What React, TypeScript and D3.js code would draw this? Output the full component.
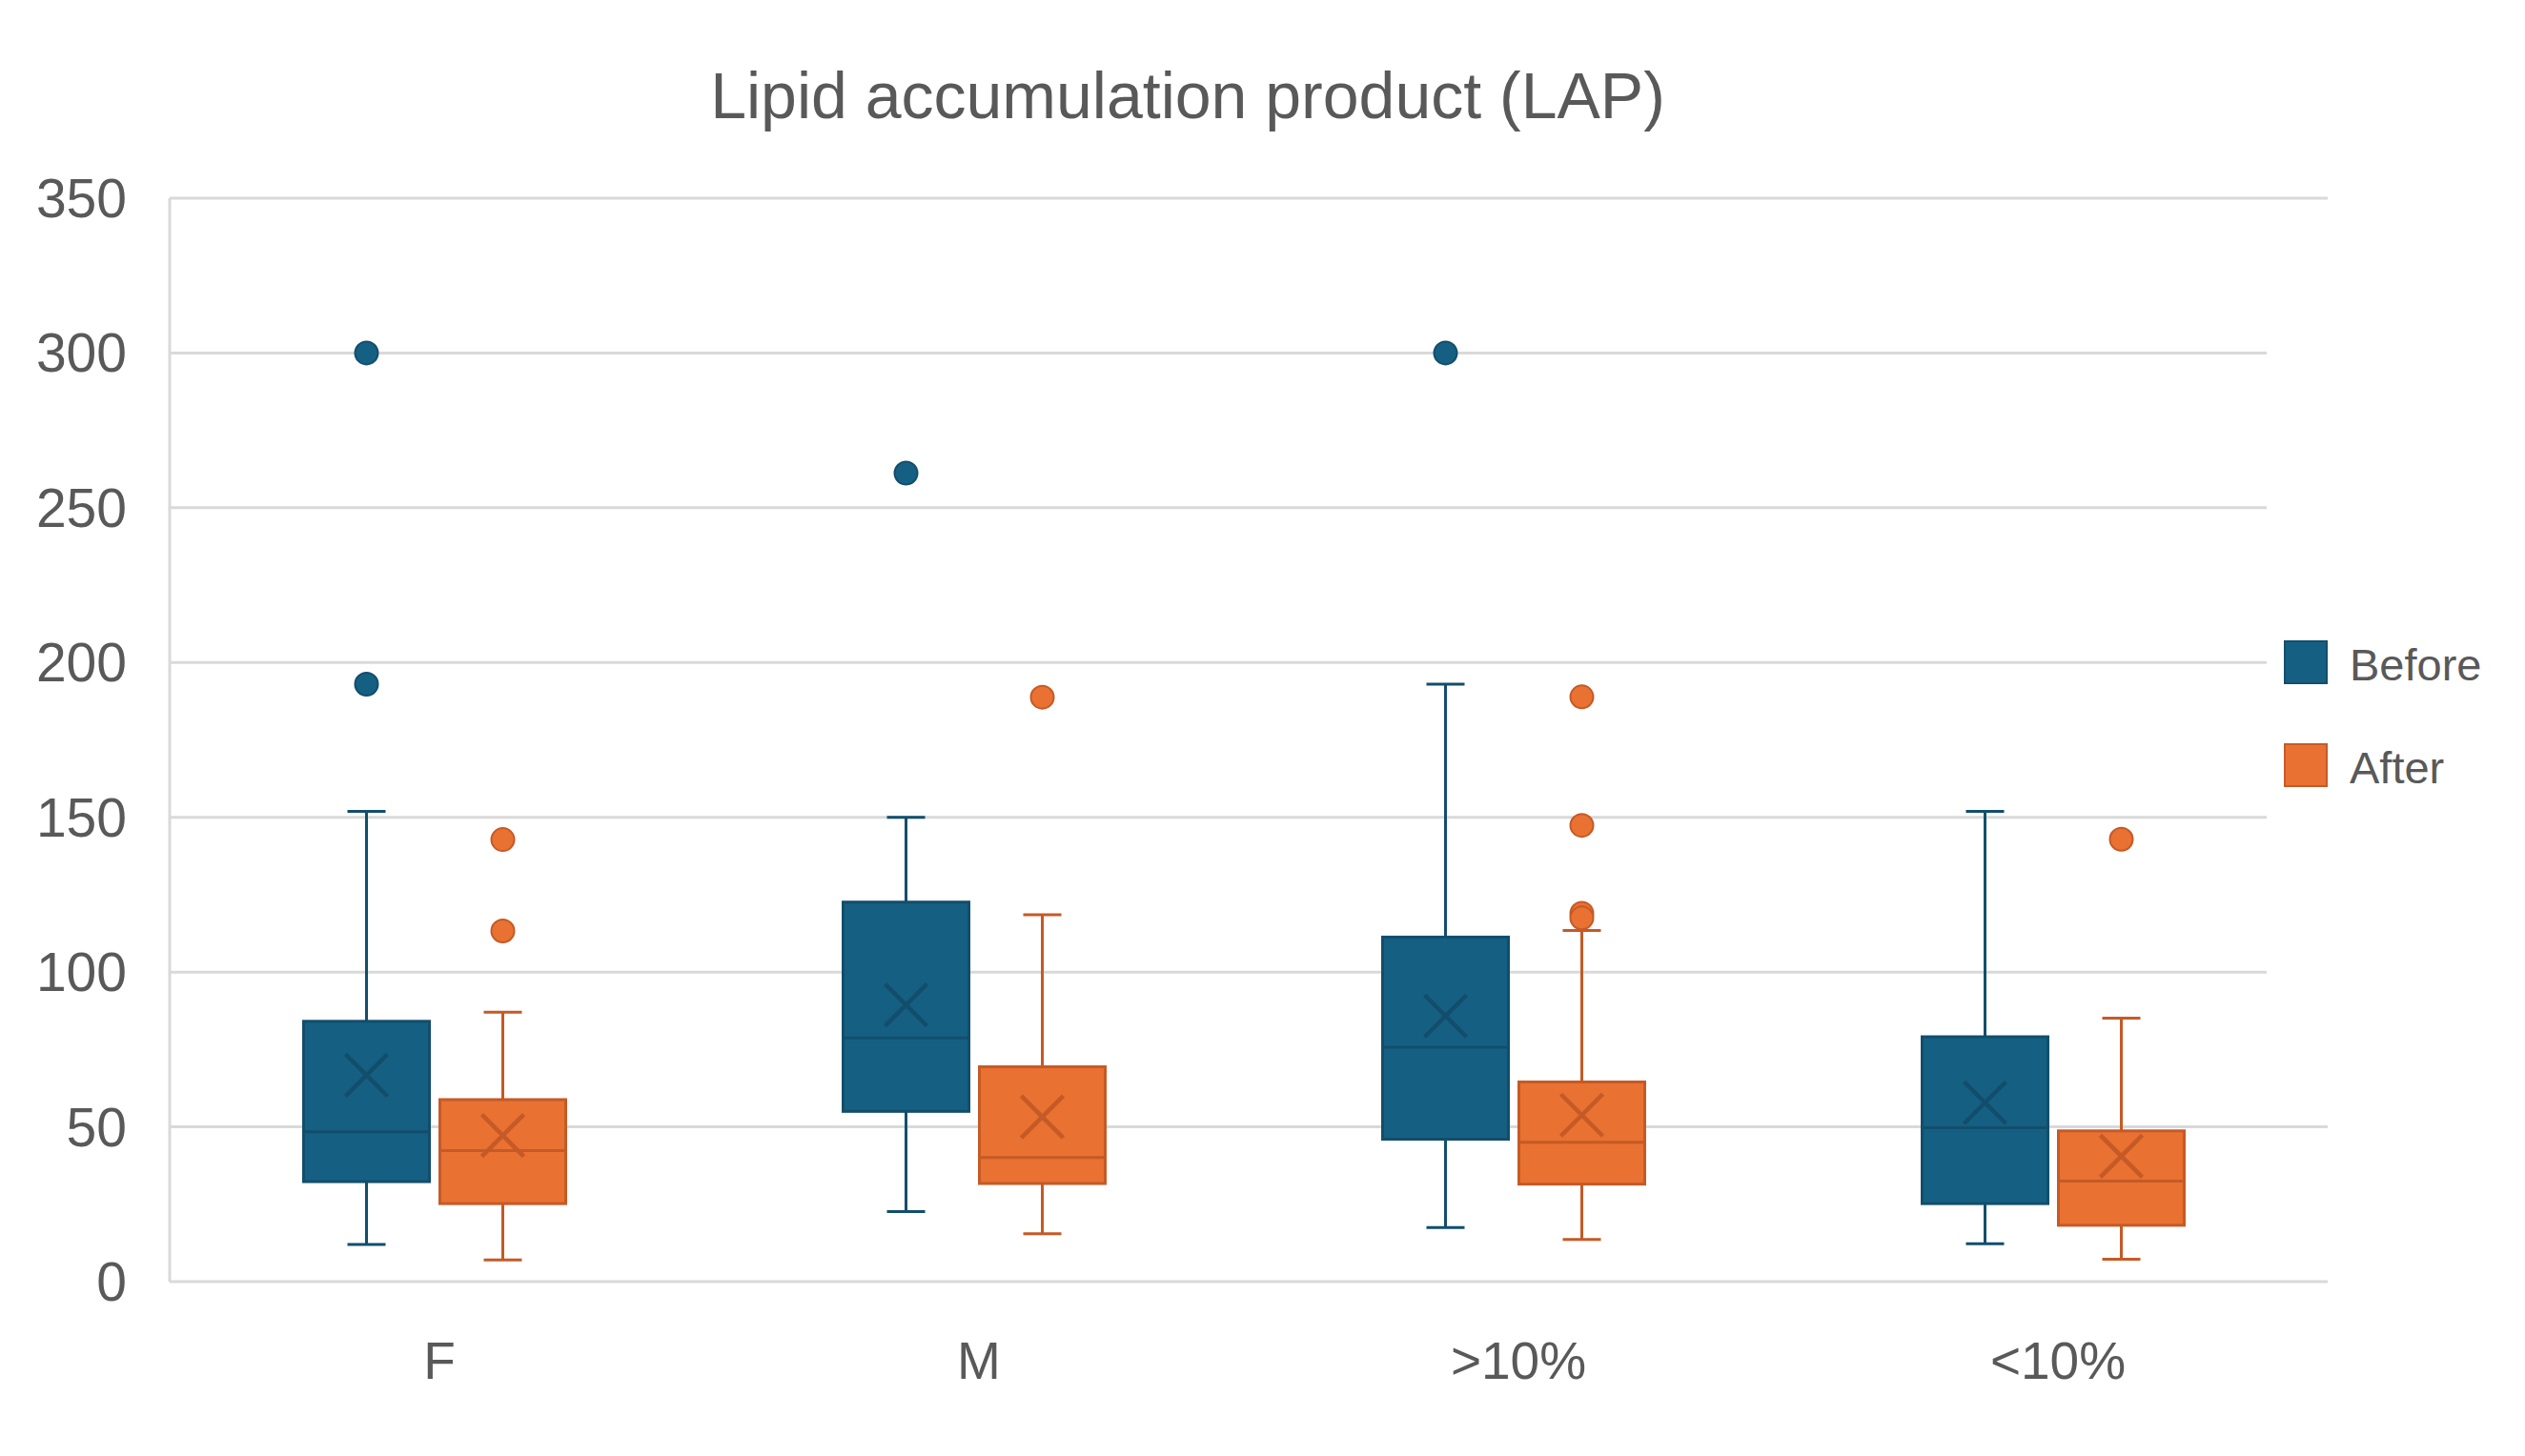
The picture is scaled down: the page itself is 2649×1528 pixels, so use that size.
import * as d3 from "d3";
import { useEffect, useRef } from "react";

const width = 2649;
const height = 1528;
const plot = { left: 178, right: 2442, top: 208, bottom: 1345 };

const categories = ["F", "M", ">10%", "<10%"];
const seriesNames = ["Before", "After"];
const yTicks = [0, 50, 100, 150, 200, 250, 300, 350];

// Before
const beforeMin = [12, 22.6, 17.5, 12.2];
const beforeQ1 = [32.3, 55, 46, 25.2];
const beforeMedian = [48.4, 78.7, 75.7, 49.7];
const beforeQ3 = [84.1, 122.6, 111.3, 79.1];
const beforeMax = [151.9, 150, 193, 151.9];
const beforeMean = [66.7, 89.4, 85.8, 57.8];
const beforeOutliers = [[300, 193], [261.2], [300], []];

// After
const afterMin = [7, 15.5, 13.6, 7.2];
const afterQ1 = [25.2, 31.7, 31.5, 18.2];
const afterMedian = [42.3, 40.1, 45, 32.5];
const afterQ3 = [58.8, 69.4, 64.5, 48.7];
const afterMax = [87, 118.5, 113.4, 85.1];
const afterMean = [47.2, 53.2, 53.8, 40.5];
const afterOutliers = [[142.8, 113.3], [188.8], [188.9, 147.4, 119, 117.5], [142.9]];

const fills = ["#156082", "#E97132"];
const darks = ["#124E6C", "#C55A26"];
const font = "'Liberation Sans', Arial, sans-serif";
const textColor = "#595959";
const gridColor = "#D9D9D9";

const series = [
  { min: beforeMin, q1: beforeQ1, med: beforeMedian, q3: beforeQ3, max: beforeMax, mean: beforeMean, out: beforeOutliers },
  { min: afterMin, q1: afterQ1, med: afterMedian, q3: afterQ3, max: afterMax, mean: afterMean, out: afterOutliers },
];

const App = () => {
  const ref = useRef<SVGSVGElement | null>(null);

  useEffect(() => {
    if (!ref.current) return;
    const svg = d3.select(ref.current);
    svg.selectAll("*").remove();

    const y = d3.scaleLinear().domain([0, 350]).range([plot.bottom, plot.top]);
    const x = d3.scaleBand().domain(categories).range([plot.left, plot.right]);
    const sub = d3.scaleBand().domain(seriesNames).range([-148, 138]);
    const boxW = 132;
    const capW = 40;
    const xs = 44;

    svg.append("rect").attr("width", width).attr("height", height).attr("fill", "#fff");

    // title
    svg
      .append("text")
      .attr("x", 1246)
      .attr("y", 124)
      .attr("text-anchor", "middle")
      .attr("font-family", font)
      .attr("font-size", 68)
      .attr("fill", textColor)
      .text("Lipid accumulation product (LAP)");

    // grid
    svg
      .append("g")
      .selectAll("line")
      .data(yTicks)
      .join("line")
      .attr("x1", plot.left)
      .attr("x2", plot.right)
      .attr("y1", (d) => y(d))
      .attr("y2", (d) => y(d))
      .attr("stroke", gridColor)
      .attr("stroke-width", 3);

    svg
      .append("line")
      .attr("x1", plot.left)
      .attr("x2", plot.left)
      .attr("y1", plot.top)
      .attr("y2", plot.bottom)
      .attr("stroke", gridColor)
      .attr("stroke-width", 3);

    // legend background hides the grid under it
    svg.append("rect").attr("x", 2378).attr("y", 300).attr("width", 271).attr("height", 800).attr("fill", "#fff");

    // y labels
    svg
      .append("g")
      .selectAll("text")
      .data(yTicks)
      .join("text")
      .attr("x", 133)
      .attr("y", (d) => y(d) + 20)
      .attr("text-anchor", "end")
      .attr("font-family", font)
      .attr("font-size", 57)
      .attr("fill", textColor)
      .text((d) => d);

    // x labels
    svg
      .append("g")
      .selectAll("text")
      .data(categories)
      .join("text")
      .attr("x", (d) => x(d)! + x.bandwidth() / 2)
      .attr("y", 1447)
      .attr("text-anchor", "middle")
      .attr("font-family", font)
      .attr("font-size", 55)
      .attr("fill", textColor)
      .text((d) => d);

    // boxes
    series.forEach((s, si) => {
      const g = svg.append("g");
      categories.forEach((c, ci) => {
        const cx = x(c)! + x.bandwidth() / 2 + sub(seriesNames[si])! + sub.bandwidth() / 2;
        const dark = darks[si];
        // whiskers
        [
          [s.q3[ci], s.max[ci]],
          [s.q1[ci], s.min[ci]],
        ].forEach(([a, b]) => {
          g.append("line")
            .attr("x1", cx)
            .attr("x2", cx)
            .attr("y1", y(a))
            .attr("y2", y(b))
            .attr("stroke", dark)
            .attr("stroke-width", 3);
          g.append("line")
            .attr("x1", cx - capW / 2)
            .attr("x2", cx + capW / 2)
            .attr("y1", y(b))
            .attr("y2", y(b))
            .attr("stroke", dark)
            .attr("stroke-width", 3);
        });
        g.append("rect")
          .attr("x", cx - boxW / 2)
          .attr("y", y(s.q3[ci]))
          .attr("width", boxW)
          .attr("height", y(s.q1[ci]) - y(s.q3[ci]))
          .attr("fill", fills[si])
          .attr("stroke", dark)
          .attr("stroke-width", 3);
        g.append("line")
          .attr("x1", cx - boxW / 2)
          .attr("x2", cx + boxW / 2)
          .attr("y1", y(s.med[ci]))
          .attr("y2", y(s.med[ci]))
          .attr("stroke", dark)
          .attr("stroke-width", 3);
        const my = y(s.mean[ci]);
        g.append("path")
          .attr("d", `M${cx - xs / 2},${my - xs / 2}L${cx + xs / 2},${my + xs / 2}M${cx - xs / 2},${my + xs / 2}L${cx + xs / 2},${my - xs / 2}`)
          .attr("stroke", dark)
          .attr("stroke-width", 4.5)
          .attr("fill", "none");
        g.selectAll(null)
          .data(s.out[ci])
          .join("circle")
          .attr("cx", cx)
          .attr("cy", (d) => y(d))
          .attr("r", 12)
          .attr("fill", fills[si])
          .attr("stroke", dark)
          .attr("stroke-width", 2);
      });
    });

    // legend
    const leg = svg.append("g");
    seriesNames.forEach((n, i) => {
      leg
        .append("rect")
        .attr("x", 2397)
        .attr("y", 673 + i * 108)
        .attr("width", 44)
        .attr("height", 44)
        .attr("fill", fills[i])
        .attr("stroke", darks[i])
        .attr("stroke-width", 2);
      leg
        .append("text")
        .attr("x", 2465)
        .attr("y", 714 + i * 108)
        .attr("font-family", font)
        .attr("font-size", 47)
        .attr("fill", textColor)
        .text(n);
    });
  }, []);

  return (
    <svg
      ref={ref}
      width={width}
      height={height}
      style={{ position: "absolute", left: 0, top: 0 }}
    />
  );
};

export default App;
